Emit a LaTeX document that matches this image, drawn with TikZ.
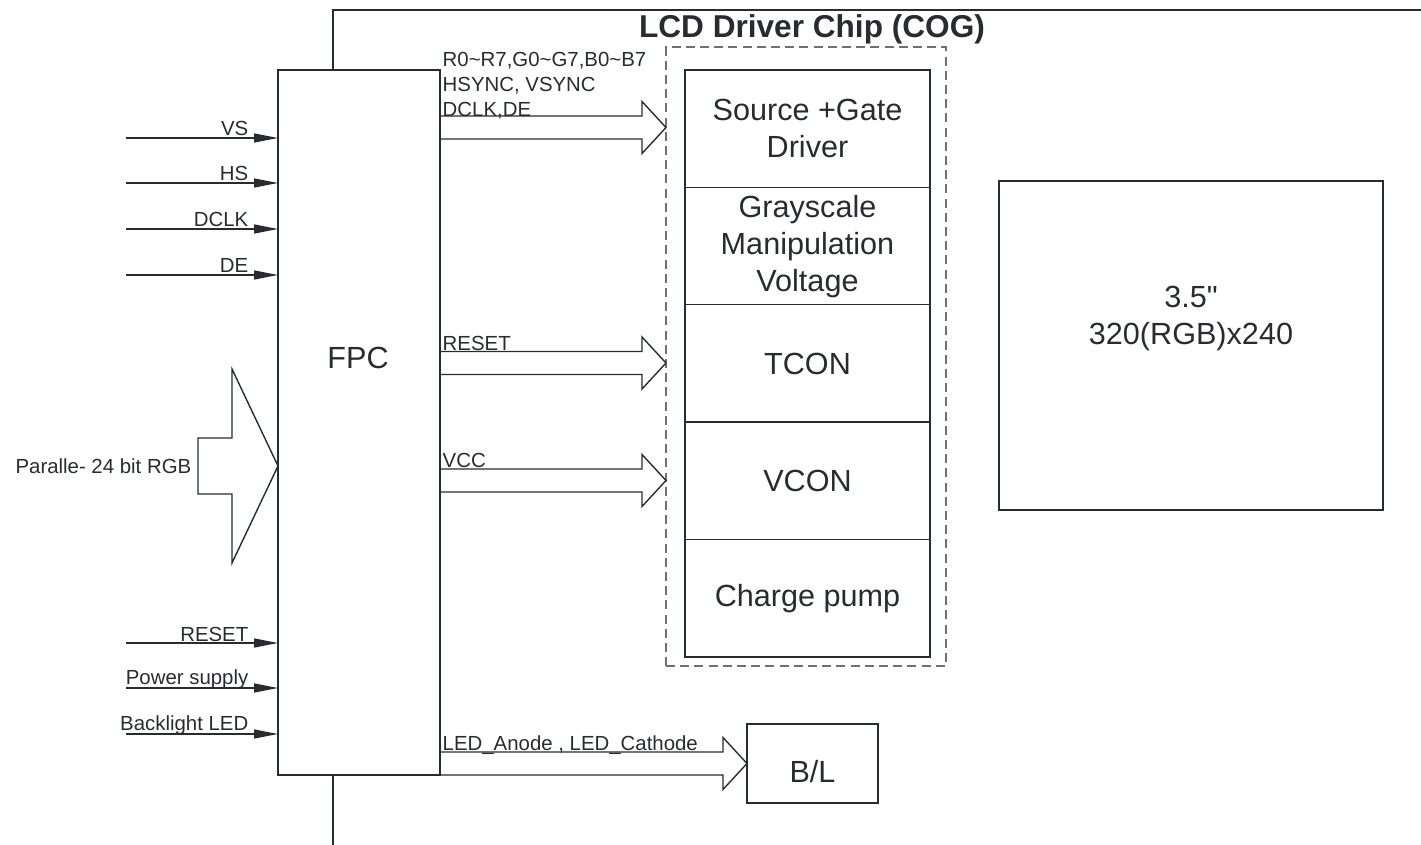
\documentclass[tikz,border=0pt]{standalone}
\usepackage{fontspec}
\setmainfont{Liberation Sans}
\newfontfamily\dritto{Liberation Sans}
\usetikzlibrary{arrows.meta}

\definecolor{inchiostro}{RGB}{40,44,48}
\definecolor{tratteggio}{RGB}{112,112,112}

\newcommand{\piccolo}{\fontsize{10.2}{12.5}\selectfont}
\newcommand{\grande}{\fontsize{15.3}{18.5}\selectfont}
\newcommand{\titolo}{\fontsize{15.8}{19}\selectfont\bfseries}

% freccia a bus (vuota): #1 partenza, #2 punta
\newcommand{\frecciabus}[2]{%
  \draw[bus] ([yshift=5.75pt]#1) -- ([xshift=-12pt,yshift=5.75pt]#2)
    -- ([xshift=-12pt,yshift=13pt]#2) -- (#2)
    -- ([xshift=-12pt,yshift=-13pt]#2) -- ([xshift=-12pt,yshift=-5.75pt]#2)
    -- ([yshift=-5.75pt]#1);}

\begin{document}
\begin{tikzpicture}[x=0.5pt, y=-0.5pt, line width=0.7pt, draw=inchiostro, text=inchiostro]
	% Stili
	\tikzset{scatola/.style={draw=inchiostro, inner sep=0pt, outer sep=0pt},
		cella/.style={scatola, minimum width=122.5pt, minimum height=58.7pt, align=center, font=\grande},
		chip/.style={draw=tratteggio, dash pattern=on 4.5pt off 2.6pt, inner sep=0pt, outer sep=0pt},
		segnale/.style={draw=inchiostro, -{Triangle[length=12pt, width=4.5pt]}},
		bus/.style={draw=inchiostro, line join=miter},
		etich/.style={font=\piccolo, inner sep=0pt},
		grosso/.style={font=\grande, align=center, inner sep=0pt}}
	\useasboundingbox (0,0) rectangle (1421,845);
	
	% Cornice del pannello
	\draw (333,845) -- (333,10) -- (1421,10);
	\node[font=\titolo, inner sep=0pt] (titolo) at (812,29) {LCD Driver Chip (COG)};
	
	% Blocchi
	\node[scatola, fill=white, minimum width=81pt, minimum height=352.5pt] (fpc) at (359,422.5) {};
	\node[grosso] (lfpc) at (358,358) {FPC};
	\node[chip, minimum width=140pt, minimum height=309.5pt] (cog) at (806,356.5) {};
	\node[cella] (sorgente) at (807.5,128.7) {Source +Gate\\Driver};
	\node[cella] (grigi) at (807.5,246.1) {Grayscale\\Manipulation\\Voltage};
	\node[cella] (tcon) at (807.5,363.5) {TCON};
	\node[cella] (vcon) at (807.5,480.9) {VCON};
	\node[cella] (pompa) at (807.5,598.3) {Charge pump};
	\node[scatola, minimum width=192pt, minimum height=164.5pt] (pannello) at (1191,345.5) {};
	\node[grosso] (lpannello) at (1191,318) {{\dritto 3.5"}\\320(RGB)x240};
	\node[scatola, minimum width=65.5pt, minimum height=39.5pt] (bl) at (812.5,763.5) {};
	\node[grosso] (lbl) at (812.5,772) {B/L};
	
	% Segnali in ingresso
	\coordinate (vs) at (126,138);
	\coordinate (hs) at (126,183);
	\coordinate (dclk) at (126,229);
	\coordinate (de) at (126,275);
	\coordinate (reset) at (126,643);
	\coordinate (alim) at (126,688);
	\coordinate (led) at (126,734);
	\draw[segnale] (vs) -- (vs -| fpc.west) node[etich, pos=1, anchor=base east, xshift=-14.5pt, yshift=1pt] {VS};
	\draw[segnale] (hs) -- (hs -| fpc.west) node[etich, pos=1, anchor=base east, xshift=-14.5pt, yshift=1pt] {HS};
	\draw[segnale] (dclk) -- (dclk -| fpc.west) node[etich, pos=1, anchor=base east, xshift=-14.5pt, yshift=1pt] {DCLK};
	\draw[segnale] (de) -- (de -| fpc.west) node[etich, pos=1, anchor=base east, xshift=-14.5pt, yshift=1pt] {DE};
	\draw[segnale] (reset) -- (reset -| fpc.west) node[etich, pos=1, anchor=base east, xshift=-14.5pt, yshift=1pt] {RESET};
	\draw[segnale] (alim) -- (alim -| fpc.west) node[etich, pos=1, anchor=base east, xshift=-14.5pt, yshift=2pt] {Power supply};
	\draw[segnale] (led) -- (led -| fpc.west) node[etich, pos=1, anchor=base east, xshift=-14.5pt, yshift=2pt] {Backlight LED};
	
	% Ingresso RGB parallelo
	\coordinate (rgb) at (198,466);
	\draw[bus] ([yshift=14pt]rgb) -- ([xshift=17pt,yshift=14pt]rgb) -- ([xshift=17pt,yshift=48.5pt]rgb)
		-- (rgb -| fpc.west) -- ([xshift=17pt,yshift=-48.5pt]rgb) -- ([xshift=17pt,yshift=-14pt]rgb)
		-- ([yshift=-14pt]rgb) -- cycle;
	\node[etich, anchor=east] (lrgb) at ([xshift=-3pt]rgb) {Paralle- 24 bit RGB};
	
	% Bus verso il chip
	\coordinate (b1) at (fpc.east |- 0,127.5);
	\coordinate (b2) at (fpc.east |- 0,363);
	\coordinate (b3) at (fpc.east |- 0,480.5);
	\coordinate (b4) at (fpc.east |- bl.west);
	\frecciabus{b1}{cog.west |- b1}
	\frecciabus{b2}{cog.west |- b2}
	\frecciabus{b3}{cog.west |- b3}
	\frecciabus{b4}{bl.west}
	\node[etich, anchor=south west, align=left] (ldati) at ([xshift=1pt,yshift=3.6pt]b1) {R0\textasciitilde R7,G0\textasciitilde G7,B0\textasciitilde B7\\HSYNC, VSYNC\\DCLK,DE};
	\node[etich, anchor=base west] (lreset) at ([xshift=1pt,yshift=6.4pt]b2) {RESET};
	\node[etich, anchor=base west] (lvcc) at ([xshift=1pt,yshift=6.4pt]b3) {VCC};
	\node[etich, anchor=base west] (lanodo) at ([xshift=1pt,yshift=6.4pt]b4) {LED\_Anode , LED\_Cathode};
\end{tikzpicture}
\end{document}
